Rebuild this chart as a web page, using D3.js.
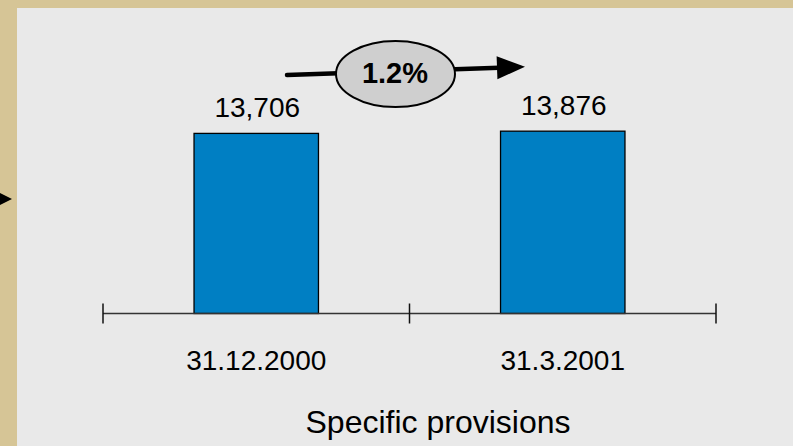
<!DOCTYPE html>
<html>
<head>
<meta charset="utf-8">
<script src="https://cdn.jsdelivr.net/npm/d3@7"></script>
<style>
  html, body { margin: 0; padding: 0; background: #d6c596; }
  svg { display: block; font-family: "Liberation Sans", Arial, sans-serif; }
</style>
</head>
<body>
<svg id="chart" width="793" height="446"></svg>
<script>
// Specific provisions at two reporting dates
const categories = ["31.12.2000", "31.3.2001"];
const values = [13706, 13876];
const valueLabels = ["13,706", "13,876"];
const changeLabel = "1.2%";
const axisTitle = "Specific provisions";

const W = 793, H = 446;
const svg = d3.select("#chart");

// page frame and panel
svg.append("rect").attr("x", 0).attr("y", 0).attr("width", W).attr("height", H).attr("fill", "#d6c596");
svg.append("rect").attr("x", 17).attr("y", 8).attr("width", W - 17).attr("height", H - 8).attr("fill", "#e9e9e9");

// pointer arrow coming from the left margin
svg.append("path")
  .attr("d", "M-4,191 L12,199 L-4,207 Z")
  .attr("fill", "#000");

const axisY = 313.5;
const x = d3.scaleBand()
  .domain(categories)
  .range([103, 716])
  .paddingInner(0.594)
  .paddingOuter(0.297);

const y = d3.scaleLinear()
  .domain([0, 16000])
  .range([axisY, axisY - 16000 * 0.01314]);

// bars
svg.selectAll("rect.bar")
  .data(values)
  .join("rect")
  .attr("class", "bar")
  .attr("x", (d, i) => x(categories[i]))
  .attr("y", d => y(d))
  .attr("width", x.bandwidth())
  .attr("height", d => y(0) - y(d))
  .attr("fill", "#007fc3")
  .attr("stroke", "#000")
  .attr("stroke-width", 1.3);

// value labels above bars
svg.selectAll("text.val")
  .data(values)
  .join("text")
  .attr("class", "val")
  .attr("x", (d, i) => x(categories[i]) + x.bandwidth() / 2 + 1)
  .attr("y", d => y(d) - 16.5)
  .attr("text-anchor", "middle")
  .attr("font-size", 28)
  .attr("fill", "#000")
  .text((d, i) => valueLabels[i]);

// baseline with boundary ticks
const [r0, r1] = x.range();
const mid = (x(categories[0]) + x.bandwidth() / 2 + x(categories[1]) + x.bandwidth() / 2) / 2;
const tickXs = [r0, mid, r1];
svg.append("line")
  .attr("x1", r0).attr("x2", r1)
  .attr("y1", axisY).attr("y2", axisY)
  .attr("stroke", "#333").attr("stroke-width", 1.4);
svg.selectAll("line.tick")
  .data(tickXs)
  .join("line")
  .attr("class", "tick")
  .attr("x1", d => d).attr("x2", d => d)
  .attr("y1", axisY - 10).attr("y2", axisY + 10)
  .attr("stroke", "#111").attr("stroke-width", 1.5);

// category labels
svg.selectAll("text.cat")
  .data(categories)
  .join("text")
  .attr("class", "cat")
  .attr("x", d => x(d) + x.bandwidth() / 2)
  .attr("y", 370)
  .attr("text-anchor", "middle")
  .attr("font-size", 28)
  .attr("fill", "#000")
  .text(d => d);

// axis title
svg.append("text")
  .attr("x", 438)
  .attr("y", 433)
  .attr("text-anchor", "middle")
  .attr("font-size", 32)
  .attr("fill", "#000")
  .text(axisTitle);

// growth arrow with percentage badge
const ax0 = 287, ay0 = 75, ax1 = 525, ay1 = 66.8;
const ang = Math.atan2(ay1 - ay0, ax1 - ax0);
const headLen = 28, headHalf = 11.5;
const bx = ax1 - headLen * Math.cos(ang), by = ay1 - headLen * Math.sin(ang);
const px = -Math.sin(ang) * headHalf, py = Math.cos(ang) * headHalf;

svg.append("line")
  .attr("x1", ax0).attr("y1", ay0)
  .attr("x2", bx + 2 * Math.cos(ang)).attr("y2", by + 2 * Math.sin(ang))
  .attr("stroke", "#000")
  .attr("stroke-width", 4.5)
  .attr("stroke-linecap", "round");

svg.append("path")
  .attr("d", `M${ax1},${ay1} L${bx + px},${by + py} L${bx - px},${by - py} Z`)
  .attr("fill", "#000");

svg.append("ellipse")
  .attr("cx", 395.5).attr("cy", 74)
  .attr("rx", 59.5).attr("ry", 33)
  .attr("fill", "#cfcfcf")
  .attr("stroke", "#000")
  .attr("stroke-width", 2);

svg.append("text")
  .attr("x", 395).attr("y", 82.5)
  .attr("text-anchor", "middle")
  .attr("font-size", 29)
  .attr("font-weight", "bold")
  .attr("fill", "#000")
  .text(changeLabel);
</script>
</body>
</html>
